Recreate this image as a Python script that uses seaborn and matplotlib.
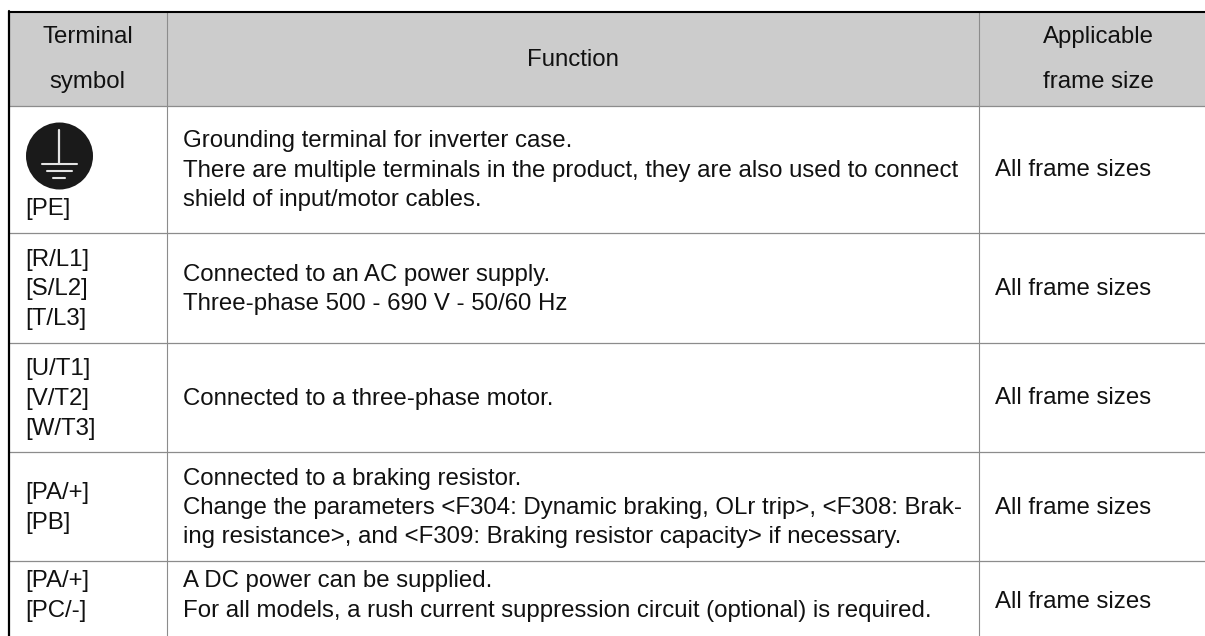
import matplotlib
matplotlib.use('Agg')
import matplotlib.pyplot as plt
import numpy as np
import seaborn as sns
from matplotlib.colors import ListedColormap
from matplotlib.patches import Circle

header_cols = [['Terminal', 'symbol'], ['Function'], ['Applicable', 'frame size']]

symbols = [
    ['[PE]'],
    ['[R/L1]', '[S/L2]', '[T/L3]'],
    ['[U/T1]', '[V/T2]', '[W/T3]'],
    ['[PA/+]', '[PB]'],
    ['[PA/+]', '[PC/-]'],
]
functions = [
    ['Grounding terminal for inverter case.',
     'There are multiple terminals in the product, they are also used to connect',
     'shield of input/motor cables.'],
    ['Connected to an AC power supply.',
     'Three-phase 500 - 690 V - 50/60 Hz'],
    ['Connected to a three-phase motor.'],
    ['Connected to a braking resistor.',
     'Change the parameters <F304: Dynamic braking, OLr trip>, <F308: Brak-',
     'ing resistance>, and <F309: Braking resistor capacity> if necessary.'],
    ['A DC power can be supplied.',
     'For all models, a rush current suppression circuit (optional) is required.'],
]
frame_sizes = ['All frame sizes'] * 5

W, H = 1205, 636
col_x = [8.5, 167, 979, 1205]
row_y = [12, 105.7, 233, 343, 452, 561, 641]
LH = 29.5
FS = 17.3
TC = '#111111'
DY = 1.5

sns.set_theme(style='white')
plt.rcParams['font.family'] = ['Liberation Sans', 'DejaVu Sans']

fig = plt.figure(figsize=(W / 100, H / 100), dpi=100)
ax = fig.add_axes([0, 0, 1, 1])
ax.set_xlim(0, W)
ax.set_ylim(H, 0)
ax.axis('off')

# header band
hx = fig.add_axes([col_x[0] / W, 1 - row_y[1] / H, (W - col_x[0]) / W, (row_y[1] - row_y[0]) / H])
sns.heatmap(np.ones((1, 1)), ax=hx, cbar=False, cmap=ListedColormap(['#cccccc']),
            xticklabels=False, yticklabels=False)
hx.set_zorder(0)
ax.set_zorder(1)
ax.patch.set_alpha(0)

grey = '#8c8c8c'
for y in row_y[1:-1]:
    ax.plot([col_x[0], W], [y, y], color=grey, lw=0.9)
for x in col_x[1:3]:
    ax.plot([x, x], [row_y[0], H], color=grey, lw=0.8)
ax.plot([col_x[0], col_x[0]], [row_y[0] - 1, H], color='black', lw=1.6)
ax.plot([col_x[0], W], [row_y[0], row_y[0]], color='black', lw=1.5)

# header text
ax.text(87.5, 37, header_cols[0][0], fontsize=FS, color=TC, ha='center', va='center')
ax.text(87.5, 82, header_cols[0][1], fontsize=FS, color=TC, ha='center', va='center')
ax.text(573, 60, header_cols[1][0], fontsize=FS, color=TC, ha='center', va='center')
ax.text(1098, 37, header_cols[2][0], fontsize=FS, color=TC, ha='center', va='center')
ax.text(1098, 82, header_cols[2][1], fontsize=FS, color=TC, ha='center', va='center')

# body
for i in range(5):
    mid = (row_y[i + 1] + row_y[i + 2]) / 2 + DY
    lines = functions[i]
    top = mid - LH * (len(lines) - 1) / 2
    if i == 4:
        top = 580 + DY
    for j, t in enumerate(lines):
        ax.text(183, top + j * LH, t, fontsize=FS, color=TC, va='center', ha='left')
    ax.text(995, mid - 0.5, frame_sizes[i], fontsize=FS, color=TC, va='center', ha='left')
    if i == 0:
        ax.text(25, 208 + DY, symbols[i][0], fontsize=FS, color=TC, va='center', ha='left')
    else:
        lines = symbols[i]
        top = mid - LH * (len(lines) - 1) / 2
        if i == 4:
            top = 580 + DY
        for j, t in enumerate(lines):
            ax.text(25, top + j * LH, t, fontsize=FS, color=TC, va='center', ha='left')

# ground symbol
ax.add_patch(Circle((59.5, 156), 33.5, color='#1a1a1a', lw=0))
ax.plot([58.5, 58.5], [130, 163], color='#e4e4e4', lw=1.6)
ax.plot([42, 77], [163.5, 163.5], color='#e4e4e4', lw=1.5)
ax.plot([47, 72], [171, 171], color='#e4e4e4', lw=1.5)
ax.plot([53, 65], [178, 178], color='#e4e4e4', lw=1.5)

fig.savefig('out.png', dpi=100)
